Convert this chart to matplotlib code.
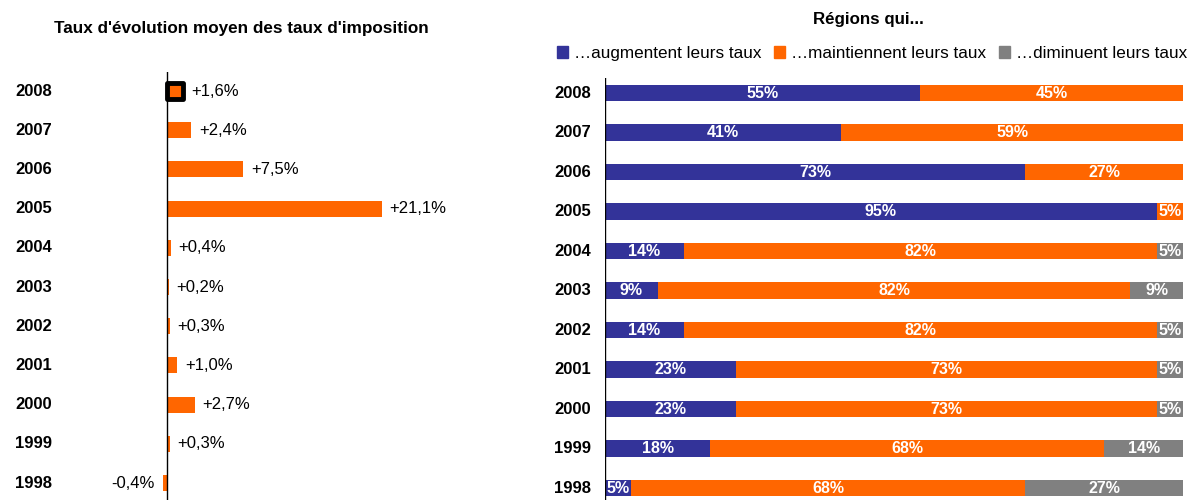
import matplotlib.pyplot as plt
from matplotlib.patches import Patch
from matplotlib.transforms import blended_transform_factory

plt.rcParams["font.family"] = ["Liberation Sans", "DejaVu Sans"]

years = ["2008", "2007", "2006", "2005", "2004", "2003", "2002", "2001", "2000", "1999", "1998"]

# taux d'évolution moyen (%)
evolution = [1.6, 2.4, 7.5, 21.1, 0.4, 0.2, 0.3, 1.0, 2.7, 0.3, -0.4]

# nombre de régions (sur 22) qui augmentent / maintiennent / diminuent
n_regions = 22
augmentent = [12, 9, 16, 21, 3, 2, 3, 5, 5, 4, 1]
maintiennent = [10, 13, 6, 1, 18, 18, 18, 16, 16, 15, 15]
diminuent = [0, 0, 0, 0, 1, 2, 1, 1, 1, 3, 6]

series_labels = ["…augmentent leurs taux", "…maintiennent leurs taux", "…diminuent leurs taux"]
BLUE = "#333399"
ORANGE = "#FF6600"
GREY = "#808080"

W, H = 1189, 500
fig = plt.figure(figsize=(W / 100, H / 100), dpi=100)

# ---- gauche : taux d'évolution
ax1 = fig.add_axes([60 / W, 0, (480 - 60) / W, 1 - 72 / H])
px_per_pct = 10.19
ax1.set_xlim(-(167 - 60) / px_per_pct, (480 - 167) / px_per_pct)
ax1.set_ylim((500 - 91) / 39.2, -(91 - 72) / 39.2)
ax1.axis("off")
ax1.axvline(0, color="black", lw=1)

pos = list(range(len(years)))
bars = ax1.barh(pos, evolution, height=0.41, color=ORANGE)
# 2008 mis en évidence
bars[0].set_edgecolor("black")
bars[0].set_linewidth(3.5)
bars[0].set_joinstyle("round")

tr1 = blended_transform_factory(fig.transFigure, ax1.transData)
for i, (y, v) in enumerate(zip(years, evolution)):
    ax1.text(15 / W, i, y, transform=tr1, ha="left", va="center",
             fontsize=12, fontweight="bold")
    txt = ("+" if v >= 0 else "") + f"{v:.1f}".replace(".", ",") + "%"
    off = 5.5 if v >= 0 else -6
    ax1.annotate(txt, (v, i), xytext=(off, 0), textcoords="offset points",
                 ha="left" if v >= 0 else "right", va="center", fontsize=12)

fig.text(241 / W, 1 - 29 / H, "Taux d'évolution moyen des taux d'imposition",
         ha="center", va="center", fontsize=12.3, fontweight="bold")

# ---- droite : régions qui...
ax2 = fig.add_axes([605 / W, 0, (1183 - 605) / W, 1 - 78 / H])
ax2.set_xlim(0, n_regions)
ax2.set_ylim((500 - 93) / 39.5, -(93 - 78) / 39.5)
ax2.axis("off")
ax2.axvline(0, color="black", lw=1)

left = [0] * len(years)
for vals, col in zip([augmentent, maintiennent, diminuent], [BLUE, ORANGE, GREY]):
    ax2.barh(pos, vals, left=left, height=0.43, color=col)
    for i, v in enumerate(vals):
        if v > 0:
            ax2.text(left[i] + v / 2, i, f"{round(v / n_regions * 100)}%",
                     ha="center", va="center", color="white",
                     fontsize=11.5, fontweight="bold")
    left = [a + b for a, b in zip(left, vals)]

tr2 = blended_transform_factory(fig.transFigure, ax2.transData)
for i, y in enumerate(years):
    ax2.text(591 / W, i, y, transform=tr2, ha="right", va="center",
             fontsize=12, fontweight="bold")

fig.text(868 / W, 1 - 19.5 / H, "Régions qui...", ha="center", va="center",
         fontsize=12.2, fontweight="bold")

handles = [Patch(color=c) for c in [BLUE, ORANGE, GREY]]
fig.legend(handles, series_labels, loc="center", ncol=3,
           bbox_to_anchor=(872 / W, 1 - 53.5 / H), frameon=False, fontsize=12.3,
           handlelength=0.64, handleheight=0.64, handletextpad=0.35,
           columnspacing=0.76, borderaxespad=0, borderpad=0)

fig.savefig("out.png", dpi=100)
